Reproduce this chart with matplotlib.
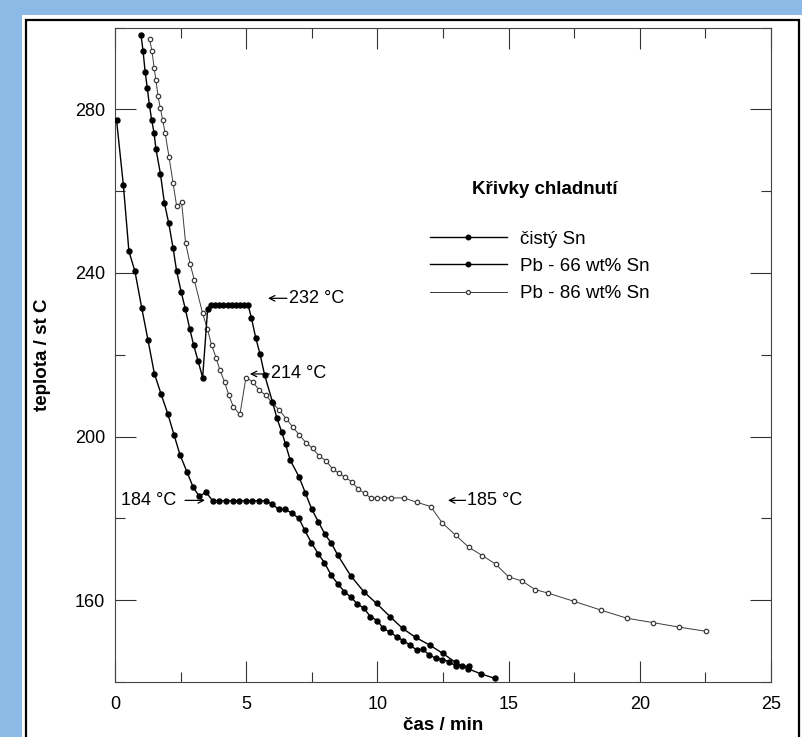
import matplotlib
matplotlib.use('Agg')
import matplotlib.pyplot as plt
from matplotlib.patches import Rectangle
from matplotlib.ticker import MultipleLocator, FixedLocator

plt.rcParams['font.family'] = ['Liberation Sans', 'DejaVu Sans']

# ---- data (time in min, temperature in deg C) ----
sn_t = [0.99, 1.07, 1.15, 1.23, 1.31, 1.40, 1.49, 1.56, 1.73, 1.88,
        2.05, 2.21, 2.35, 2.52, 2.68, 2.85, 3.00, 3.17, 3.34, 3.53,
        3.66, 3.82, 3.97, 4.13, 4.29, 4.44, 4.60, 4.76, 4.91, 5.07,
        5.20, 5.36, 5.53, 5.70, 6.00, 6.17, 6.35, 6.50, 6.68, 7.01,
        7.25, 7.50, 7.75, 8.00, 8.24, 8.49, 8.98, 9.49, 9.97, 10.48,
        10.96, 11.46, 12.00, 12.49, 12.98, 13.47, 13.94, 14.47]
sn_T = [298.2, 294.2, 289.1, 285.2, 281.1, 277.3, 274.2, 270.3, 264.3, 257.2,
        252.1, 246.2, 240.4, 235.4, 231.2, 226.3, 222.3, 218.4, 214.4, 231.2,
        232.2, 232.2, 232.2, 232.2, 232.2, 232.2, 232.2, 232.2, 232.2, 232.2,
        229.0, 224.2, 220.1, 215.1, 208.5, 204.5, 201.2, 198.1, 194.2, 190.2,
        186.3, 182.2, 179.2, 176.1, 174.0, 171.0, 166.0, 162.0, 159.2, 156.0,
        153.1, 150.9, 149.0, 147.0, 144.8, 143.2, 142.0, 140.9]

pb66_t = [0.06, 0.32, 0.53, 0.76, 1.02, 1.26, 1.50, 1.75, 2.01, 2.25,
          2.48, 2.74, 2.98, 3.21, 3.47, 3.72, 3.97, 4.23, 4.48, 4.73,
          4.99, 5.24, 5.49, 5.75, 6.00, 6.24, 6.49, 6.76, 7.01, 7.23,
          7.48, 7.75, 7.98, 8.24, 8.49, 8.74, 9.00, 9.23, 9.49, 9.73,
          10.00, 10.22, 10.48, 10.73, 10.99, 11.25, 11.50, 11.73, 11.98, 12.23,
          12.48, 12.73, 12.98, 13.23, 13.48]
pb66_T = [277.3, 261.4, 245.3, 240.4, 231.4, 223.5, 215.4, 210.5, 205.6, 200.4,
          195.5, 191.4, 187.6, 185.4, 186.4, 184.3, 184.3, 184.3, 184.3, 184.3,
          184.3, 184.3, 184.3, 184.3, 183.4, 182.2, 182.2, 181.2, 180.0, 177.1,
          174.1, 171.3, 169.2, 166.1, 164.0, 162.1, 160.7, 159.1, 158.0, 156.0,
          155.0, 153.1, 152.2, 151.1, 150.1, 149.0, 147.8, 148.0, 146.6, 145.8,
          145.5, 145.0, 143.9, 143.9, 143.9]

pb86_t = [1.32, 1.41, 1.49, 1.56, 1.64, 1.73, 1.82, 1.91, 2.06, 2.21,
          2.35, 2.54, 2.69, 2.86, 3.02, 3.34, 3.52, 3.68, 3.85, 4.00,
          4.18, 4.33, 4.51, 4.76, 4.99, 5.25, 5.50, 5.75, 6.01, 6.26,
          6.52, 6.77, 7.02, 7.28, 7.53, 7.79, 8.04, 8.30, 8.55, 8.77,
          9.02, 9.27, 9.53, 9.74, 10.00, 10.25, 10.51, 11.01, 11.52, 12.03,
          12.47, 12.98, 13.49, 14.00, 14.51, 15.00, 15.51, 16.01, 16.52, 17.50,
          18.51, 19.50, 20.52, 21.51, 22.52]
pb86_T = [297.1, 294.2, 290.2, 287.1, 283.2, 280.2, 277.3, 274.2, 268.3, 262.1,
          256.3, 257.3, 247.3, 242.3, 238.3, 230.1, 226.3, 222.4, 219.3, 216.2,
          213.3, 210.2, 207.3, 205.4, 214.4, 213.4, 211.3, 210.1, 208.1, 206.5,
          204.4, 202.4, 200.4, 198.5, 197.1, 195.2, 194.1, 192.0, 191.0, 190.0,
          189.0, 187.1, 186.1, 185.0, 185.0, 185.0, 185.0, 185.0, 183.9, 182.9,
          178.9, 175.9, 172.9, 170.9, 168.8, 165.7, 164.7, 162.6, 161.7, 159.7,
          157.6, 155.6, 154.5, 153.4, 152.4]

series_labels = ['čistý Sn', 'Pb - 66 wt% Sn', 'Pb - 86 wt% Sn']
legend_title = 'Křivky chladnutí'
x_ticks = [0, 5, 10, 15, 20, 25]
y_ticks = [160, 200, 240, 280]
# (label, arrow tip x, arrow tail x, text x, y, text alignment)
annotations = [('232 °C', 5.83, 6.55, 6.63, 233.8, 'left'),
               ('214 °C', 5.14, 5.88, 5.95, 215.3, 'left'),
               ('184 °C', 3.43, 2.67, 2.34, 184.4, 'right'),
               ('185 °C', 12.69, 13.36, 13.42, 184.4, 'left')]

W, H = 802, 737
fig = plt.figure(figsize=(W / 100, H / 100), dpi=100, facecolor='#8db9e6')
fig.add_artist(Rectangle((22 / W, 0), 1, 1 - 15 / H, transform=fig.transFigure,
                         facecolor='white', edgecolor='none', zorder=0))
fig.add_artist(Rectangle((26 / W, -0.01), (799 - 26) / W, 1 - 20 / H + 0.01,
                         transform=fig.transFigure, fill=False,
                         edgecolor='black', linewidth=1.6, zorder=1))

ax = fig.add_axes([115 / W, 1 - 682 / H, 656 / W, 654.5 / H])
ax.set_facecolor('white')

ax.plot(sn_t, sn_T, '-o', color='black', lw=1.0, ms=3.6, label=series_labels[0], zorder=3)
ax.plot(pb66_t, pb66_T, '-o', color='black', lw=1.0, ms=3.6, label=series_labels[1], zorder=3)
ax.plot(pb86_t, pb86_T, '-o', color='#3a3a3a', lw=0.7, ms=3.2, mfc='white',
        mec='#3a3a3a', mew=0.9, label=series_labels[2], zorder=2)

ax.set_xlim(0, 25)
ax.set_ylim(140, 300)
ax.xaxis.set_major_locator(FixedLocator(x_ticks))
ax.xaxis.set_minor_locator(MultipleLocator(2.5))
ax.yaxis.set_major_locator(FixedLocator(y_ticks))
ax.yaxis.set_minor_locator(MultipleLocator(20))
ax.tick_params(which='both', direction='in', top=True, right=True,
               width=0.8, color='#333333')
ax.tick_params(which='major', length=15, labelsize=13)
ax.tick_params(which='minor', length=7)
ax.tick_params(axis='x', which='major', pad=10)
ax.tick_params(axis='y', which='major', pad=7)
for s in ax.spines.values():
    s.set_linewidth(0.8)
    s.set_color('#444444')

ax.set_xlabel('čas / min', fontsize=13.5, fontweight='bold')
ax.xaxis.set_label_coords(0.5, -0.066)
ax.xaxis.label.set_verticalalignment('center')
ax.set_ylabel('teplota / st C', fontsize=13.5, fontweight='bold')
ax.yaxis.set_label_coords(-0.111, 0.5)
ax.yaxis.label.set_verticalalignment('center')

for txt, tip, tail, tx, y, ha in annotations:
    ax.annotate('', xy=(tip, y), xytext=(tail, y),
                arrowprops=dict(arrowstyle='->', lw=0.9, color='black',
                                shrinkA=0, shrinkB=0, mutation_scale=10))
    ax.text(tx, y, txt, fontsize=13, ha=ha, va='center')

ax.text(0.655, 0.752, legend_title, transform=ax.transAxes, fontsize=13.5,
        fontweight='bold', ha='center', va='center')
ax.legend(loc='upper left', bbox_to_anchor=(0.48, 0.69), frameon=False,
          fontsize=13.5, handlelength=4.1, handletextpad=0.7, labelspacing=0.55,
          borderpad=0, borderaxespad=0, numpoints=1, markerscale=0.9)

fig.savefig('out.png', dpi=100, facecolor=fig.get_facecolor())
